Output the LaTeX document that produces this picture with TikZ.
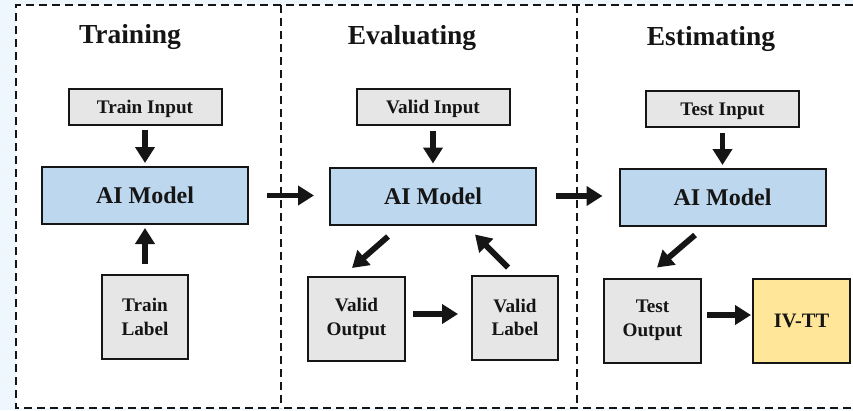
\documentclass[tikz,border=0pt]{standalone}
\usepackage{fontspec}
\setmainfont{Liberation Serif}
\usetikzlibrary{arrows.meta,calc}
\definecolor{modelblue}{HTML}{BDD7EE}
\definecolor{boxgray}{HTML}{E7E6E6}
\definecolor{resultyellow}{HTML}{FFE699}
\definecolor{pageblue}{HTML}{EEF7FE}
\definecolor{inkblack}{HTML}{151515}
\begin{document}
\begin{tikzpicture}[x=1pt,y=-1pt,
  box/.style={draw=inkblack, line width=2pt, inner sep=0pt, align=center,
    text=inkblack, font=\bfseries\fontsize{19.2}{23.5}\selectfont},
  databox/.style={box, fill=boxgray},
  resultbox/.style={box, fill=resultyellow, text depth=0pt, font=\bfseries\fontsize{20.5}{24}\selectfont},
  modelbox/.style={box, fill=modelblue, minimum width=206pt, minimum height=57pt,
    text depth=0pt, font=\bfseries\fontsize{24}{28}\selectfont},
  inbox/.style={databox, minimum width=153pt, minimum height=36pt, text depth=0pt},
  sqbox/.style={minimum width=#1, minimum height=84pt},
  title/.style={anchor=base, text=inkblack, font=\bfseries\fontsize{27.5}{31}\selectfont},
  flow/.style={-{Triangle[length=16pt,width=19pt]}, line width=5.8pt, draw=inkblack},
  frame/.style={draw=inkblack, dash pattern=on 8pt off 5pt, line width=1.8pt}
]
\useasboundingbox (0,0) rectangle (853,410);
% page background and dashed stage frames
\fill[pageblue] (0,0) rectangle (853,410);
\fill[white] (16,5) rectangle (853,408);
\draw[frame] (853,5) -- (16,5) -- (16,408) -- (853,408);
\draw[frame] (281,5) -- (281,408);
\draw[frame] (577,5) -- (577,408);

% stage titles
\node[title] (ttrain) at (130,43) {Training};
\node[title] (teval) at (412,44) {Evaluating};
\node[title] (test) at (711,45) {Estimating};

% training stage
\node[inbox] (tin) at (145,106.5) {Train Input};
\node[modelbox] (aim1) at (145,195.5) {AI Model};
\node[databox, sqbox=86pt] (tlab) at (145,317) {Train\\Label};

% evaluating stage
\node[inbox] (vin) at (433,106.5) {Valid Input};
\node[modelbox] (aim2) at (433,196) {AI Model};
\node[databox, sqbox=97pt] (vout) at (356.5,319) {Valid\\Output};
\node[databox, sqbox=86pt] (vlab) at (515,317.5) {Valid\\Label};

% estimating stage
\node[inbox] (tein) at (722.5,109) {Test Input};
\node[modelbox] (aim3) at (722.5,197.5) {AI Model};
\node[databox, sqbox=97pt] (tout) at (652.5,320.5) {Test\\Output};
\node[resultbox, sqbox=97pt] (ivtt) at (801.5,320.5) {IV-TT};

% connectors
\draw[flow, shorten <=4pt, shorten >=3pt] (tin) -- (aim1);
\draw[flow, shorten <=10pt, shorten >=3pt] (tlab) -- (aim1);
\draw[flow, shorten <=18pt, shorten >=15pt] (aim1.east) -- (aim1.east -| aim2.west);
\draw[flow, shorten <=5pt, shorten >=3pt] (vin) -- (aim2);
\draw[flow] ($(aim2.south)+(-45,11)$) -- ($(vout.north)+(-4.5,-8)$);
\draw[flow] ($(vlab.north)+(-7,-7)$) -- ($(aim2.south)+(42,9)$);
\draw[flow] ($(vout.east)+(7,-5)$) -- ($(vlab.west)+(-13,-3.5)$);
\draw[flow, shorten <=19pt, shorten >=16pt] (aim2.east) -- (aim2.east -| aim3.west);
\draw[flow, shorten <=5pt, shorten >=3pt] (tein) -- (aim3);
\draw[flow] ($(aim3.south)+(-27.5,8)$) -- ($(tout.north)+(4.5,-10)$);
\draw[flow] ($(tout.east)+(5,-5.5)$) -- ($(ivtt.west)+(-1,-5.5)$);
\end{tikzpicture}
\end{document}
